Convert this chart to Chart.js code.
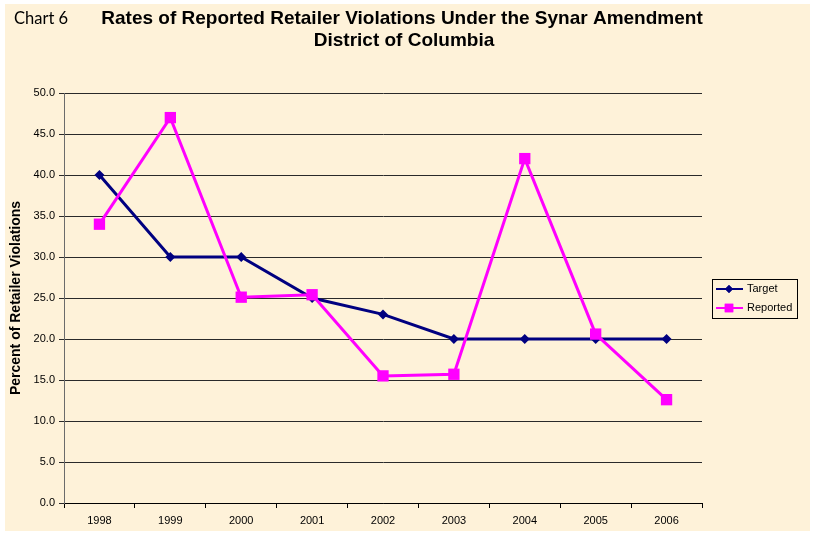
<!DOCTYPE html>
<html>
<head>
<meta charset="utf-8">
<script src="https://cdn.jsdelivr.net/npm/chart.js@4"></script>
<style>
    html, body { margin: 0; padding: 0; background: #ffffff; }
    #wrap {
        position: absolute;
        left: 5px;
        top: 4px;
        width: 805px;
        height: 527px;
        background: #fef2d9;
    }
</style>
</head>
<body>
<div id="wrap"><canvas id="chart" width="805" height="527"></canvas></div>
<script>
// Chart data
const years = ['1998', '1999', '2000', '2001', '2002', '2003', '2004', '2005', '2006'];
const targetRates = [40, 30, 30, 25, 23, 20, 20, 20, 20];
const reportedRates = [34.0, 47.0, 25.1, 25.4, 15.5, 15.7, 42.0, 20.6, 12.6];
const yTicks = [0, 5, 10, 15, 20, 25, 30, 35, 40, 45, 50];

const NAVY = '#000080';
const MAGENTA = '#ff00ff';

// Titles + legend box drawn on the canvas
const decorPlugin = {
    id: 'decor',
    afterDraw(chart) {
        const ctx = chart.ctx;
        ctx.save();

        // "Chart 6" label
        ctx.fillStyle = '#000';
        ctx.textBaseline = 'middle';
        ctx.textAlign = 'left';
        ctx.font = '16.5px Lato, "Open Sans", sans-serif';
        ctx.fillText('Chart 6', 9, 15);

        // main title
        ctx.textAlign = 'center';
        ctx.font = 'bold 19px "Liberation Sans", Arial, sans-serif';
        ctx.fillText('Rates of Reported Retailer Violations Under the Synar Amendment', 397, 15);
        ctx.fillText('District of Columbia', 399, 37);

        // legend
        const lx = 707, ly = 275, lw = 85, lh = 39;
        ctx.strokeStyle = '#000';
        ctx.lineWidth = 1;
        ctx.strokeRect(lx + 0.5, ly + 0.5, lw, lh);

        const items = [
            { label: 'Target', color: NAVY, style: 'rectRot', r: 4, y: ly + 10 },
            { label: 'Reported', color: MAGENTA, style: 'rect', r: 6, y: ly + 29 }
        ];
        ctx.font = '11px "Liberation Sans", Arial, sans-serif';
        ctx.textAlign = 'left';
        items.forEach(item => {
            ctx.strokeStyle = item.color;
            ctx.lineWidth = 2;
            ctx.beginPath();
            ctx.moveTo(lx + 4, item.y);
            ctx.lineTo(lx + 31, item.y);
            ctx.stroke();
            ctx.fillStyle = item.color;
            Chart.helpers.drawPoint(ctx, { pointStyle: item.style, radius: item.r, borderWidth: 0 }, lx + 17, item.y);
            ctx.fill();
            ctx.fillStyle = '#000';
            ctx.fillText(item.label, lx + 35, item.y);
        });

        ctx.restore();
    }
};

new Chart(document.getElementById('chart'), {
    type: 'line',
    data: {
        labels: years,
        datasets: [
            {
                label: 'Target',
                data: targetRates,
                borderColor: NAVY,
                backgroundColor: NAVY,
                borderWidth: 3,
                pointStyle: 'rectRot',
                pointRadius: 5,
                pointBorderWidth: 0,
                tension: 0,
                order: 1
            },
            {
                label: 'Reported',
                data: reportedRates,
                borderColor: MAGENTA,
                backgroundColor: MAGENTA,
                borderWidth: 3,
                pointStyle: 'rect',
                pointRadius: 8,
                pointBorderWidth: 0,
                tension: 0,
                order: 0
            }
        ]
    },
    options: {
        responsive: false,
        animation: false,
        layout: {
            padding: { top: 89, right: 108, bottom: 0, left: 0 }
        },
        plugins: {
            legend: { display: false },
            tooltip: { enabled: false }
        },
        scales: {
            x: {
                offset: true,
                afterFit: scale => { scale.height = 28; },
                grid: {
                    offset: true,
                    drawOnChartArea: false,
                    drawTicks: true,
                    tickLength: 5,
                    color: '#000'
                },
                border: { color: '#000', width: 1 },
                ticks: {
                    color: '#000',
                    padding: 6,
                    font: { family: '"Liberation Sans", Arial, sans-serif', size: 11 }
                }
            },
            y: {
                min: 0,
                max: 50,
                afterFit: scale => { scale.width = 59; },
                afterBuildTicks: scale => {
                    scale.ticks = yTicks.map(v => ({ value: v }));
                },
                grid: {
                    color: '#2a2a2a',
                    lineWidth: 1,
                    tickLength: 5
                },
                border: { color: '#6b6b6b', width: 1 },
                ticks: {
                    color: '#000',
                    padding: 4,
                    font: { family: '"Liberation Sans", Arial, sans-serif', size: 11 },
                    callback: v => Number(v).toFixed(1)
                },
                title: {
                    display: true,
                    text: 'Percent of Retailer Violations',
                    color: '#000',
                    padding: { top: 3, bottom: 0 },
                    font: { family: '"Liberation Sans", Arial, sans-serif', size: 14, weight: 'bold' }
                }
            }
        }
    },
    plugins: [decorPlugin]
});
</script>
</body>
</html>
